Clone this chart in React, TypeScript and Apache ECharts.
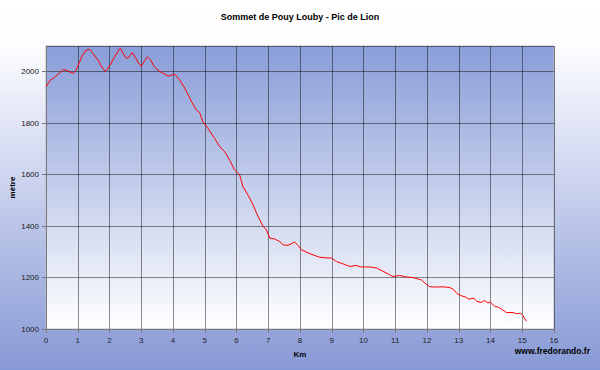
import React, { useEffect, useRef } from "react";
import * as echarts from "echarts";

const TITLE = "Sommet de Pouy Louby - Pic de Lion";
const X_NAME = "Km";
const Y_NAME = "mètre";
const WATERMARK = "www.fredorando.fr";

const distanceKm: number[] = [
  0.0, 0.12, 0.27, 0.43, 0.56, 0.69, 0.85, 0.94, 1.04, 1.15, 1.27, 1.38, 1.48, 1.64, 1.74, 1.85, 1.92,
  2.04, 2.16, 2.27, 2.34, 2.43, 2.53, 2.61, 2.72, 2.83, 2.93, 3.0, 3.11, 3.19, 3.3, 3.42, 3.56, 3.69,
  3.85, 4.05, 4.21, 4.37, 4.51, 4.58, 4.74, 4.84, 4.94, 5.1, 5.31, 5.47, 5.63, 5.79, 5.94, 6.1, 6.2,
  6.36, 6.52, 6.68, 6.83, 6.94, 7.05, 7.2, 7.36, 7.47, 7.62, 7.83, 7.94, 8.04, 8.2, 8.41, 8.62, 8.88,
  8.99, 9.15, 9.36, 9.57, 9.76, 9.93, 10.2, 10.41, 10.62, 10.78, 10.93, 11.14, 11.35, 11.56, 11.72,
  11.82, 11.93, 12.07, 12.24, 12.5, 12.72, 12.84, 12.95, 13.09, 13.22, 13.32, 13.48, 13.57, 13.71,
  13.81, 13.92, 13.99, 14.06, 14.13, 14.24, 14.34, 14.5, 14.71, 14.83, 14.94, 15.02, 15.13,
];

const altitudeM: number[] = [
  1942, 1965, 1978, 1996, 2009, 2003, 1994, 2004, 2033, 2065, 2084, 2087, 2071, 2045, 2022, 2003, 2007,
  2030, 2058, 2080, 2091, 2071, 2052, 2056, 2075, 2052, 2030, 2022, 2043, 2058, 2045, 2018, 2003, 1994,
  1983, 1991, 1968, 1936, 1903, 1884, 1851, 1841, 1806, 1780, 1741, 1709, 1689, 1655, 1618, 1599, 1554,
  1521, 1483, 1437, 1401, 1385, 1353, 1350, 1340, 1327, 1325, 1338, 1325, 1308, 1299, 1288, 1279, 1276,
  1276, 1262, 1253, 1243, 1247, 1241, 1241, 1237, 1224, 1214, 1204, 1208, 1202, 1200, 1194,
  1191, 1179, 1165, 1163, 1164, 1161, 1153, 1137, 1129, 1124, 1116, 1120, 1107, 1103,
  1111, 1101, 1105, 1097, 1088, 1085, 1078, 1064, 1064, 1059, 1062, 1052, 1030,
];

const X_MIN = 0;
const X_MAX = 16;
const Y_MIN = 1000;
const Y_MAX = 2100;

export default function App() {
  const ref = useRef<HTMLDivElement>(null);

  useEffect(() => {
    if (!ref.current) return;
    const chart = echarts.init(ref.current, null, { renderer: "svg" });
    const font = "Arial, 'Liberation Sans', sans-serif";
    const data = distanceKm.map((x, i) => [x, altitudeM[i]]);
    chart.setOption({
      animation: false,
      backgroundColor: new echarts.graphic.LinearGradient(0, 0, 0, 1, [
        { offset: 0, color: "#ffffff" },
        { offset: 0.12, color: "#fdfdff" },
        { offset: 1, color: "#8799d6" },
      ]),
      title: {
        text: TITLE,
        left: "center",
        top: 7,
        textStyle: { fontFamily: font, fontSize: 9, fontWeight: "bold", color: "#000" },
      },
      grid: {
        left: 46,
        right: 46,
        top: 46,
        bottom: 41,
        containLabel: false,
        outerBoundsMode: "none",
        show: true,
        borderColor: "#b8bcc8",
        borderWidth: 1,
        backgroundColor: new echarts.graphic.LinearGradient(0, 0, 0, 1, [
          { offset: 0, color: "#899dd8" },
          { offset: 1, color: "#ffffff" },
        ]),
      },
      xAxis: {
        type: "value",
        min: X_MIN,
        max: X_MAX,
        interval: 1,
        name: X_NAME,
        nameLocation: "middle",
        nameGap: 21,
        nameMoveOverlap: false,
        nameTextStyle: { fontFamily: font, fontSize: 8, fontWeight: "bold", color: "#000" },
        axisLine: { show: true, lineStyle: { color: "#7a7a7a", width: 1 } },
        axisTick: { show: true, length: 4, lineStyle: { color: "#7a7a7a" } },
        axisLabel: { fontFamily: font, fontSize: 8, color: "#222", margin: 7 },
        splitLine: { show: true, lineStyle: { color: "rgba(0,0,0,0.45)", width: 1 } },
      },
      yAxis: {
        type: "value",
        min: Y_MIN,
        max: Y_MAX,
        interval: 200,
        name: Y_NAME,
        nameLocation: "middle",
        nameGap: 30,
        nameRotate: 90,
        nameMoveOverlap: false,
        nameTextStyle: { fontFamily: font, fontSize: 8, fontWeight: "bold", color: "#000" },
        axisLine: { show: true, lineStyle: { color: "#7a7a7a", width: 1 } },
        axisTick: { show: true, length: 4, lineStyle: { color: "#7a7a7a" } },
        axisLabel: {
          fontFamily: font,
          fontSize: 8,
          color: "#222",
          margin: 7,
          showMaxLabel: false,
          formatter: (v: number) => (v % 200 === 0 ? String(v) : ""),
        },
        splitLine: { show: true, lineStyle: { color: "rgba(0,0,0,0.45)", width: 1 } },
      },
      graphic: [
        {
          type: "text",
          right: 10,
          top: 346,
          style: {
            text: WATERMARK,
            fontFamily: font,
            fontSize: 8.5,
            fontWeight: "bold",
            fill: "#000",
          },
        },
      ],
      series: [
        {
          type: "line",
          data,
          showSymbol: false,
          symbol: "none",
          smooth: false,
          lineStyle: { color: "#ff0000", width: 1 },
        },
      ],
    });
    return () => chart.dispose();
  }, []);

  return (
    <div
      ref={ref}
      style={{ position: "absolute", left: 0, top: 0, width: 600, height: 370 }}
    />
  );
}
